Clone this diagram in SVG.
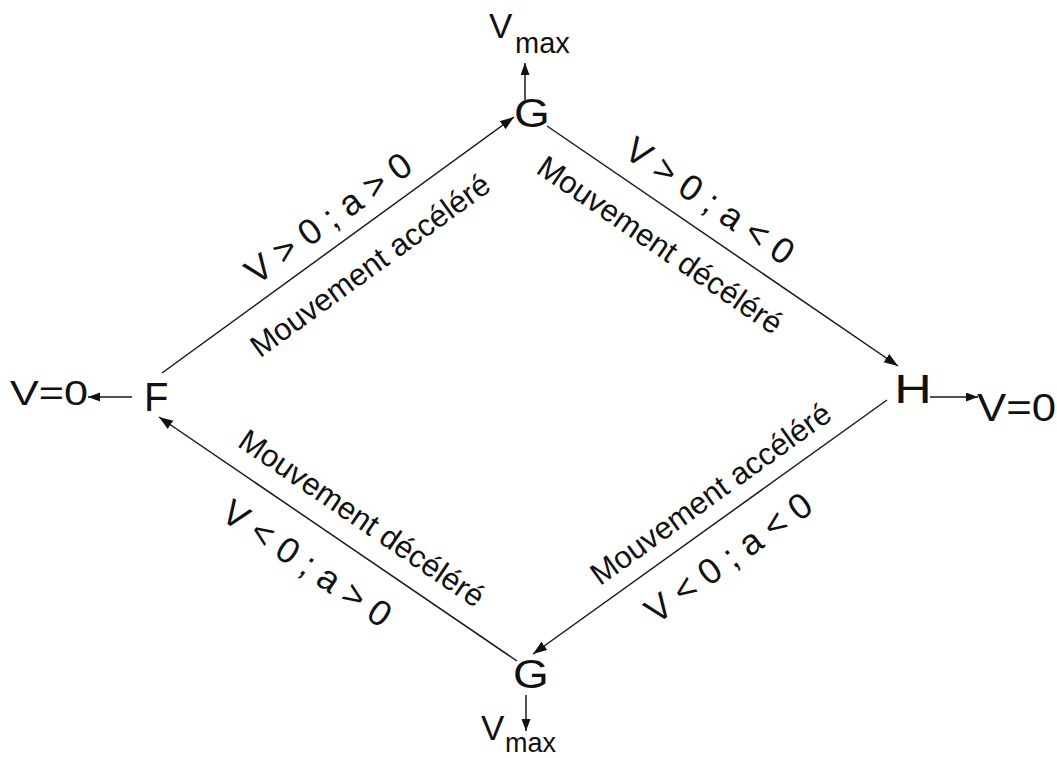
<svg xmlns="http://www.w3.org/2000/svg" width="1057" height="758" viewBox="0 0 1057 758">
  <style>
    text { font-family: "Liberation Sans", Arial, sans-serif; fill: #111; }
    .big { font-size: 40px; }
    .cond { font-size: 36px; }
    .mvt { font-size: 31px; }
    .edge { stroke: #1a1a1a; stroke-width: 1.5; fill: none; marker-end: url(#ah); }
    .small { stroke: #1a1a1a; stroke-width: 1.5; fill: none; marker-end: url(#sah); }
  </style>
  <defs>
    <marker id="ah" markerWidth="15" markerHeight="11" refX="14" refY="5" orient="auto" markerUnits="userSpaceOnUse">
      <path d="M0,0 L14,5 L0,10 z" fill="#111"/>
    </marker>
    <marker id="sah" markerWidth="13" markerHeight="10" refX="12" refY="4.5" orient="auto" markerUnits="userSpaceOnUse">
      <path d="M0,0 L12,4.5 L0,9 z" fill="#111"/>
    </marker>
  </defs>
  <rect width="1057" height="758" fill="#fff"/>

  <g id="node-G-top">
    <text class="big" transform="translate(532,127) scale(1.15,1)" text-anchor="middle">G</text>
  </g>
  <g id="node-Vmax-top">
    <text x="489" y="38" font-size="35">V<tspan x="515" y="53" font-size="29">max</tspan></text>
  </g>
  <g id="node-H">
    <text class="big" transform="translate(913,403) scale(1.3,1)" text-anchor="middle">H</text>
  </g>
  <g id="node-V0-right">
    <text x="977" y="421" font-size="39" textLength="79" lengthAdjust="spacingAndGlyphs">V=0</text>
  </g>
  <g id="node-F">
    <text class="big" x="144" y="411" font-size="44">F</text>
  </g>
  <g id="node-V0-left">
    <text x="10" y="405" font-size="35" textLength="78" lengthAdjust="spacingAndGlyphs">V=0</text>
  </g>
  <g id="node-G-bottom">
    <text class="big" transform="translate(531,688) scale(1.15,1)" text-anchor="middle">G</text>
  </g>
  <g id="node-Vmax-bottom">
    <text x="481" y="740" font-size="35">V<tspan x="505" y="752" font-size="27">max</tspan></text>
  </g>

  <g id="connectors">
    <line class="edge" x1="162" y1="373" x2="514" y2="117"/>
    <line class="edge" x1="547" y1="126" x2="898" y2="366"/>
    <line class="edge" x1="887" y1="400" x2="533" y2="654"/>
    <line class="edge" x1="517" y1="661" x2="159" y2="417"/>
    <line class="small" x1="525" y1="100" x2="525" y2="63"/>
    <line class="small" x1="526" y1="695" x2="526" y2="731"/>
    <line class="small" x1="132" y1="397" x2="88" y2="397"/>
    <line class="small" x1="930" y1="397" x2="978" y2="397"/>
  </g>

  <g id="edge-labels">
    <g transform="translate(338,245) rotate(-36)">
      <text class="cond" x="8" y="-15" text-anchor="middle">V &gt; 0 ; a &gt; 0</text>
      <text class="mvt" x="14" y="46" text-anchor="middle">Mouvement accéléré</text>
    </g>
    <g transform="translate(722.5,246) rotate(34.4)">
      <text class="cond" x="-36" y="-18" text-anchor="middle">V &gt; 0 ; a &lt; 0</text>
      <text class="mvt" x="-52" y="45" text-anchor="middle">Mouvement décéléré</text>
    </g>
    <g transform="translate(710,527) rotate(-35.7)">
      <text class="mvt" x="20" y="-16" text-anchor="middle">Mouvement accéléré</text>
      <text class="cond" x="-3" y="48" text-anchor="middle">V &lt; 0 ; a &lt; 0</text>
    </g>
    <g transform="translate(338,539) rotate(34.3)">
      <text class="mvt" x="8" y="-20" text-anchor="middle">Mouvement décéléré</text>
      <text class="cond" x="-12" y="50" text-anchor="middle">V &lt; 0 ; a &gt; 0</text>
    </g>
  </g>
</svg>
